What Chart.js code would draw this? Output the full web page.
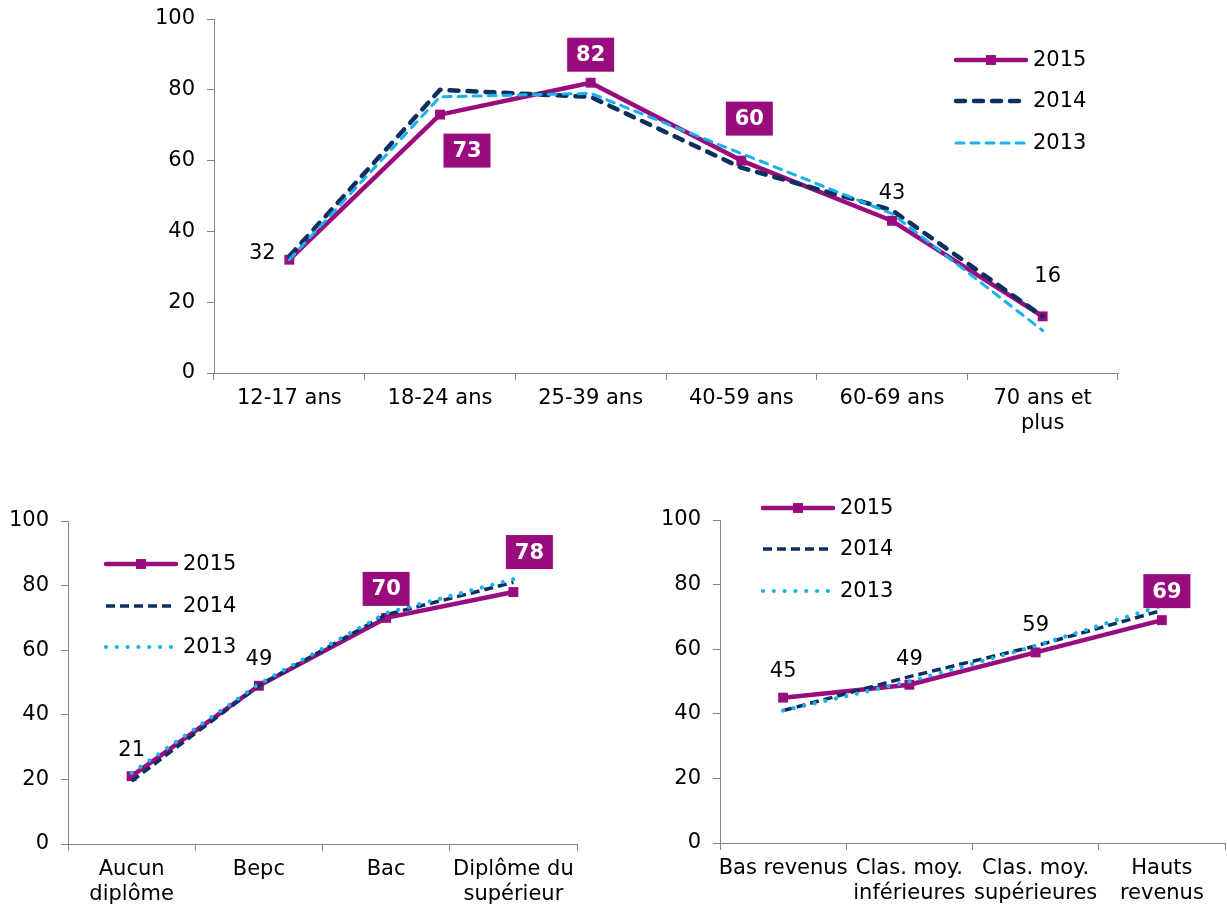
<!DOCTYPE html>
<html><head><meta charset="utf-8">
<script src="https://cdn.jsdelivr.net/npm/chart.js@4/dist/chart.umd.min.js"></script>
<style>
html,body{margin:0;padding:0;background:#fff;overflow:hidden;}
#wrap{position:relative;width:1227px;height:909px;overflow:hidden;background:#fff;}
.box{position:absolute;}
canvas{display:block;}
</style></head><body>
<div id="wrap">
<div class="box" style="left:0;top:0;"><canvas id="c1" width="1227" height="450"></canvas></div>
<div class="box" style="left:0;top:470px;"><canvas id="c2" width="600" height="439"></canvas></div>
<div class="box" style="left:620px;top:470px;"><canvas id="c3" width="612" height="439"></canvas></div>
</div>
<script>
// ---------- DATA ----------
const seriesNames = ['2015', '2014', '2013'];
const yTicks = [0, 20, 40, 60, 80, 100];

const ageCategories = ['12-17 ans', '18-24 ans', '25-39 ans', '40-59 ans', '60-69 ans', ['70 ans et', 'plus']];
const age2015 = [32, 73, 82, 60, 43, 16];
const age2014 = [33, 80, 78, 58, 46, 16];
const age2013 = [32, 78, 79, 62, 45, 12];

const diplomaCategories = [['Aucun', 'diplôme'], 'Bepc', 'Bac', ['Diplôme du', 'supérieur']];
const diploma2015 = [21, 49, 70, 78];
const diploma2014 = [19.5, 49, 71, 81];
const diploma2013 = [22, 49.5, 71.5, 82];

const incomeCategories = ['Bas revenus', ['Clas. moy.', 'inférieures'], ['Clas. moy.', 'supérieures'], ['Hauts', 'revenus']];
const income2015 = [45, 49, 59, 69];
const income2014 = [41, 51.5, 61, 72];
const income2013 = [41, 50, 61, 73.5];

// ---------- STYLE ----------
const FONT = '"DejaVu Sans", Verdana, sans-serif';
const MAG = '#990C7E';
const NAVY = '#0B2F5E';
const LIGHT = '#16B1EE';
const AXIS = '#858585';

const labelPlugin = {
  id: 'valueLabels',
  afterDatasetsDraw(chart, args, opts) {
    const ctx = chart.ctx;
    (opts.items || []).forEach(it => {
      const pt = chart.getDatasetMeta(it.dataset).data[it.index];
      const val = chart.data.datasets[it.dataset].data[it.index];
      const txt = String(Math.round(val));
      const cx = pt.x + it.dx, cy = pt.y + it.dy;
      ctx.save();
      ctx.textAlign = 'center';
      ctx.textBaseline = 'middle';
      if (it.boxed) {
        ctx.font = 'bold 21px ' + FONT;
        ctx.fillStyle = MAG;
        ctx.fillRect(cx - 23.5, cy - 17, 47, 34);
        ctx.fillStyle = '#ffffff';
        ctx.fillText(txt, cx, cy + 1);
      } else {
        ctx.font = '21px ' + FONT;
        ctx.fillStyle = '#000000';
        ctx.fillText(txt, cx, cy + 1);
      }
      ctx.restore();
    });
  }
};

const legendPlugin = {
  id: 'inlineLegend',
  afterDraw(chart, args, opts) {
    if (!opts || !opts.ys) return;
    const ctx = chart.ctx;
    chart.data.datasets.forEach((ds, i) => {
      const y = opts.ys[i];
      ctx.save();
      ctx.strokeStyle = ds.borderColor;
      ctx.lineWidth = ds.borderWidth;
      ctx.setLineDash(ds.borderDash || []);
      ctx.lineCap = ds.borderCapStyle || 'butt';
      ctx.beginPath();
      ctx.moveTo(opts.x1, y);
      ctx.lineTo(opts.x2, y);
      ctx.stroke();
      if (ds.pointRadius > 0) {
        const s = ds.pointRadius * Math.SQRT1_2;
        ctx.fillStyle = ds.pointBackgroundColor;
        ctx.fillRect((opts.x1 + opts.x2) / 2 - s, y - s, 2 * s, 2 * s);
      }
      ctx.setLineDash([]);
      ctx.font = '21px ' + FONT;
      ctx.fillStyle = '#000';
      ctx.textAlign = 'left';
      ctx.textBaseline = 'middle';
      ctx.fillText(ds.label, opts.tx, y + 1);
      ctx.restore();
    });
  }
};

function makeDatasets(values, top) {
  return [
    {label: seriesNames[0], data: values[0], borderColor: MAG, backgroundColor: MAG, borderWidth: 4.5,
     pointStyle: 'rect', pointRadius: 7, pointBackgroundColor: MAG, pointBorderWidth: 0,
     borderCapStyle: 'round', borderJoinStyle: 'round', order: 3, fill: false, tension: 0},
    top ?
    {label: seriesNames[1], data: values[1], borderColor: NAVY, backgroundColor: NAVY, borderWidth: 4.5,
     borderDash: [9, 9], borderCapStyle: 'round', borderJoinStyle: 'round', pointRadius: 0, order: 2, fill: false, tension: 0} :
    {label: seriesNames[1], data: values[1], borderColor: NAVY, backgroundColor: NAVY, borderWidth: 3.5,
     borderDash: [9, 5], borderCapStyle: 'butt', borderJoinStyle: 'round', pointRadius: 0, order: 2, fill: false, tension: 0},
    top ?
    {label: seriesNames[2], data: values[2], borderColor: LIGHT, backgroundColor: LIGHT, borderWidth: 3,
     borderDash: [8, 7], borderCapStyle: 'round', borderJoinStyle: 'round', pointRadius: 0, order: 1, fill: false, tension: 0} :
    {label: seriesNames[2], data: values[2], borderColor: LIGHT, backgroundColor: LIGHT, borderWidth: 4.2,
     borderDash: [0.01, 10.8], borderCapStyle: 'round', borderJoinStyle: 'round', pointRadius: 0, order: 1, fill: false, tension: 0}
  ];
}

function makeChart(id, labels, values, top, lay, items, legend) {
  return new Chart(document.getElementById(id), {
    type: 'line',
    data: {labels: labels, datasets: makeDatasets(values, top)},
    options: {
      responsive: false,
      animation: false,
      events: [],
      layout: {padding: lay.padding},
      plugins: {
        legend: {display: false},
        tooltip: {enabled: false},
        valueLabels: {items: items},
        inlineLegend: legend
      },
      scales: {
        x: {
          type: 'category', offset: true,
          grid: {offset: true, drawOnChartArea: false, drawTicks: true, tickLength: 7, color: AXIS, lineWidth: 1},
          border: {color: AXIS, width: 1},
          ticks: {color: '#000', font: {family: FONT, size: 21, lineHeight: 1.2}, padding: 6,
                  maxRotation: 0, minRotation: 0, autoSkip: false},
          afterFit(s) { s.height = lay.xHeight; }
        },
        y: {
          min: 0, max: 100,
          afterBuildTicks(s) { s.ticks = yTicks.map(v => ({value: v})); },
          grid: {drawOnChartArea: false, drawTicks: true, tickLength: 7, color: AXIS, lineWidth: 1},
          border: {color: AXIS, width: 1},
          ticks: {color: '#000', font: {family: FONT, size: 21}, padding: 12},
          afterFit(s) { s.width = lay.yWidth; s.paddingTop = 12; s.paddingBottom = 12; }
        }
      }
    },
    plugins: [labelPlugin, legendPlugin]
  });
}

makeChart('c1', ageCategories, [age2015, age2014, age2013], true,
  {padding: {top: 19, right: 109, left: 0, bottom: 0}, yWidth: 214, xHeight: 77},
  [
    {dataset: 0, index: 0, boxed: false, dx: -27, dy: -7},
    {dataset: 0, index: 1, boxed: true, dx: 27, dy: 36},
    {dataset: 0, index: 2, boxed: true, dx: 0, dy: -28},
    {dataset: 0, index: 3, boxed: true, dx: 8, dy: -42},
    {dataset: 0, index: 4, boxed: false, dx: 0, dy: -28},
    {dataset: 0, index: 5, boxed: false, dx: 5, dy: -41}
  ],
  {x1: 956, x2: 1026, tx: 1033, ys: [60, 101, 143]});

makeChart('c2', diplomaCategories, [diploma2015, diploma2014, diploma2013], false,
  {padding: {top: 51, right: 23, left: 0, bottom: 0}, yWidth: 68, xHeight: 65},
  [
    {dataset: 0, index: 0, boxed: false, dx: 0, dy: -27},
    {dataset: 0, index: 1, boxed: false, dx: 0, dy: -27},
    {dataset: 0, index: 2, boxed: true, dx: 0, dy: -29},
    {dataset: 0, index: 3, boxed: true, dx: 16, dy: -40}
  ],
  {x1: 106, x2: 176, tx: 183, ys: [94, 136, 177]});

makeChart('c3', incomeCategories, [income2015, income2014, income2013], false,
  {padding: {top: 50, right: 3, left: 0, bottom: 0}, yWidth: 100, xHeight: 66},
  [
    {dataset: 0, index: 0, boxed: false, dx: 0, dy: -27},
    {dataset: 0, index: 1, boxed: false, dx: 0, dy: -26},
    {dataset: 0, index: 2, boxed: false, dx: 0, dy: -28},
    {dataset: 0, index: 3, boxed: true, dx: 5, dy: -29}
  ],
  {x1: 143, x2: 213, tx: 220, ys: [38, 79, 121]});
</script>
</body></html>
